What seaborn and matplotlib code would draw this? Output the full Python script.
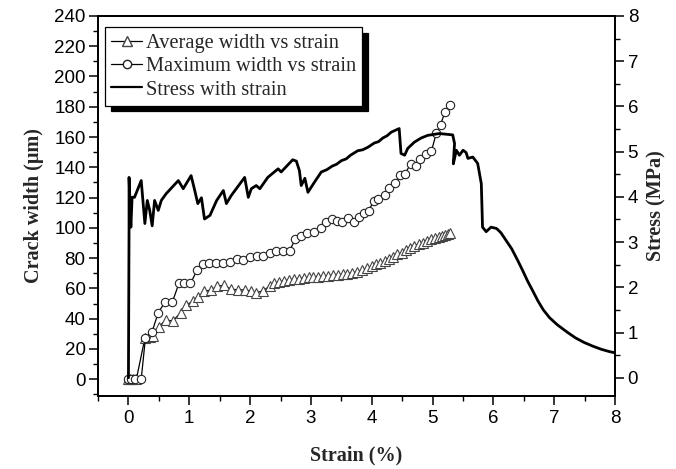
import numpy as np
import pandas as pd
import matplotlib
matplotlib.use("Agg")
import matplotlib.pyplot as plt
from matplotlib.ticker import MultipleLocator
from matplotlib.lines import Line2D
import seaborn as sns

# ---------------- data ----------------
avg_strain = [0.00, 0.03, 0.08, 0.13, 0.27, 0.35, 0.41, 0.50, 0.61, 0.73, 0.86, 0.95,
              1.06, 1.15, 1.25, 1.36, 1.46, 1.57, 1.69, 1.80, 1.91, 2.01, 2.10, 2.21,
              2.32, 2.40, 2.48, 2.56, 2.64, 2.72, 2.80, 2.88, 2.96, 3.04, 3.12, 3.20,
              3.28, 3.36, 3.44, 3.52, 3.60, 3.68, 3.76, 3.84, 3.92, 4.00, 4.07, 4.14,
              4.21, 4.28, 4.35, 4.42, 4.49, 4.56, 4.63, 4.70, 4.77, 4.84, 4.91, 4.98,
              5.04, 5.10, 5.15, 5.20, 5.25, 5.29]
avg_width = [0, 0, 0, 0, 27.0, 28.0, 28.5, 34.5, 39.0, 38.5, 44.0, 49.0,
             51.5, 54.5, 58.0, 59.0, 61.5, 62.0, 59.5, 59.0, 59.0, 58.3, 57.2, 58.3,
             61.5, 63.5, 64.5, 65.0, 65.6, 66.2, 66.5, 67.0, 67.4, 67.8, 67.8, 68.2,
             68.5, 68.7, 68.8, 69.4, 69.8, 70.3, 70.9, 72.4, 73.2, 74.5, 76.0, 77.0,
             77.8, 79.5, 80.8, 82.5, 83.7, 85.2, 86.5, 88.2, 89.3, 90.3, 91.4, 92.3,
             93.0, 93.7, 94.6, 95.2, 95.8, 96.3]

max_strain = [0.00, 0.04, 0.10, 0.21, 0.28, 0.39, 0.49, 0.60, 0.72, 0.83, 0.92, 1.02,
              1.13, 1.23, 1.33, 1.44, 1.55, 1.67, 1.78, 1.89, 2.00, 2.12, 2.21, 2.32,
              2.43, 2.54, 2.65, 2.74, 2.84, 2.94, 3.05, 3.16, 3.25, 3.34, 3.43, 3.51,
              3.61, 3.70, 3.79, 3.87, 3.95, 4.03, 4.11, 4.21, 4.29, 4.38, 4.47, 4.55,
              4.64, 4.72, 4.80, 4.89, 4.98, 5.06, 5.13, 5.20, 5.28]
max_width = [0, 0, 0, 0, 27.5, 31.5, 44.0, 50.8, 50.8, 63.3, 63.3, 63.3,
             72.2, 76.0, 76.6, 76.6, 76.6, 77.5, 79.3, 78.5, 81.0, 81.3, 81.5, 83.7,
             85.0, 85.0, 85.0, 92.3, 94.4, 96.3, 97.0, 100.0, 103.6, 105.6, 104.5, 103.8,
             106.7, 103.6, 107.4, 110.0, 111.4, 117.7, 119.0, 122.0, 126.6, 129.3, 134.6, 135.9,
             142.5, 140.7, 145.5, 148.6, 150.7, 162.5, 168.0, 176.4, 181.0]

stress_strain = [0, 0.01, 0.01, 0.04, 0.06, 0.10, 0.21, 0.27, 0.31, 0.35, 0.39, 0.43,
                 0.49, 0.54, 0.62, 0.82, 0.90, 1.03, 1.09, 1.14, 1.20, 1.25, 1.34, 1.45,
                 1.56, 1.61, 1.69, 1.91, 1.97, 2.02, 2.10, 2.16, 2.29, 2.46, 2.51, 2.70,
                 2.76, 2.81, 2.84, 2.90, 2.95, 3.06, 3.17, 3.26, 3.35, 3.42, 3.50, 3.58,
                 3.65, 3.77, 3.85, 3.94, 4.04, 4.11, 4.18, 4.25, 4.32, 4.45, 4.48, 4.54,
                 4.59, 4.70, 4.81, 4.92, 5.11, 5.33, 5.36, 5.34, 5.39, 5.44, 5.50, 5.55,
                 5.58, 5.66, 5.74, 5.80, 5.82, 5.88, 5.96, 6.05, 6.12, 6.20, 6.30, 6.40,
                 6.48, 6.56, 6.65, 6.73, 6.82, 6.92, 7.05, 7.22, 7.35, 7.49, 7.63, 7.77,
                 7.90, 8.00]
stress_mpa = [0, 3.33, 4.43, 3.33, 3.99, 3.99, 4.36, 3.41, 3.92, 3.70, 3.36, 3.92,
              3.70, 3.92, 4.07, 4.36, 4.18, 4.47, 4.14, 3.85, 3.98, 3.51, 3.59, 3.92,
              4.14, 3.85, 4.03, 4.43, 3.99, 4.18, 4.25, 4.18, 4.43, 4.62, 4.55, 4.82,
              4.79, 4.58, 4.25, 4.41, 4.10, 4.33, 4.55, 4.60, 4.68, 4.72, 4.80, 4.84,
              4.92, 5.02, 5.04, 5.10, 5.19, 5.22, 5.30, 5.35, 5.43, 5.51, 4.96, 4.92,
              5.07, 5.21, 5.30, 5.36, 5.40, 5.37, 5.18, 4.73, 5.03, 4.92, 5.03, 4.98,
              4.85, 4.88, 4.74, 4.29, 3.33, 3.23, 3.33, 3.30, 3.21, 3.05, 2.85, 2.59,
              2.37, 2.14, 1.91, 1.70, 1.50, 1.33, 1.17, 1.00, 0.88, 0.78, 0.70, 0.63,
              0.58, 0.55]

x_ticks = [0, 1, 2, 3, 4, 5, 6, 7, 8]
left_ticks = list(range(0, 241, 20))
right_ticks = list(range(0, 9))

labels = ["Average width vs strain", "Maximum width vs strain", "Stress with strain"]

# ---------------- plot ----------------
sns.set_theme(style="white")
plt.rcParams["font.family"] = ["Liberation Sans", "DejaVu Sans"]

fig = plt.figure(figsize=(6.76, 4.69), dpi=100)
ax = fig.add_axes([0.145, 0.156, 0.765, 0.810])
ax2 = ax.twinx()

df_avg = pd.DataFrame({"strain": avg_strain, "width": avg_width})
df_max = pd.DataFrame({"strain": max_strain, "width": max_width})
df_st = pd.DataFrame({"strain": stress_strain, "stress": stress_mpa})

sns.lineplot(data=df_avg, x="strain", y="width", ax=ax, sort=False, estimator=None,
             color="black", linewidth=0.9, marker="^", markersize=6.5,
             markerfacecolor="white", markeredgecolor="#444444", markeredgewidth=0.8)
sns.lineplot(data=df_max, x="strain", y="width", ax=ax, sort=False, estimator=None,
             color="black", linewidth=0.9, marker="o", markersize=6,
             markerfacecolor="white", markeredgecolor="#222222", markeredgewidth=0.8)
sns.lineplot(data=df_st, x="strain", y="stress", ax=ax2, sort=False, estimator=None,
             color="black", linewidth=2.0)

ax.set_xlim(-0.5, 8)
ax.set_ylim(-11, 240)
ax2.set_ylim(-0.4, 8)

ax.set_xticks(x_ticks)
ax.set_yticks(left_ticks)
ax2.set_yticks(right_ticks)
ax.xaxis.set_minor_locator(MultipleLocator(0.5))
ax.yaxis.set_minor_locator(MultipleLocator(10))
ax2.yaxis.set_minor_locator(MultipleLocator(0.5))

for a in (ax, ax2):
    for s in a.spines.values():
        s.set_color("black")
        s.set_linewidth(1.3)
    a.tick_params(which="major", direction="out", length=6.5, width=1.1, color="black",
                  labelsize=13.5, labelcolor="black", pad=2.5)
    a.tick_params(which="minor", direction="out", length=3.5, width=1.0, color="black")
    a.grid(False)

ax.tick_params(axis="x", which="both", bottom=True, top=False, pad=4)
ax.tick_params(axis="y", which="both", left=True, right=False)
ax2.tick_params(axis="y", which="both", right=True, left=False)

lab_font = dict(family="Liberation Serif", weight="bold", size=14.5)
ax.set_xlabel("Strain (%)", fontdict=lab_font, labelpad=13)
ax.set_ylabel("Crack width (\u03bcm)", fontdict=lab_font, labelpad=7)
ax2.set_ylabel("Stress (MPa)", fontdict=lab_font, labelpad=6)

handles = [
    Line2D([], [], color="black", linewidth=0.9, marker="^", markersize=6.5,
           markerfacecolor="white", markeredgecolor="#444444"),
    Line2D([], [], color="black", linewidth=0.9, marker="o", markersize=6,
           markerfacecolor="white", markeredgecolor="#222222"),
    Line2D([], [], color="black", linewidth=1.6),
]
leg = ax2.legend(handles, labels, loc="upper left", bbox_to_anchor=(0.014, 0.970),
                 frameon=True, fancybox=False, framealpha=1, edgecolor="black",
                 shadow={"color": "black", "alpha": 1, "ox": 4, "oy": -4},
                 prop={"family": "Liberation Serif", "size": 14.7},
                 handlelength=1.5, handletextpad=0.2, labelspacing=0.2,
                 borderpad=0.3, borderaxespad=0)
leg.get_frame().set_linewidth(0.9)

fig.savefig("out.png", dpi=100)
